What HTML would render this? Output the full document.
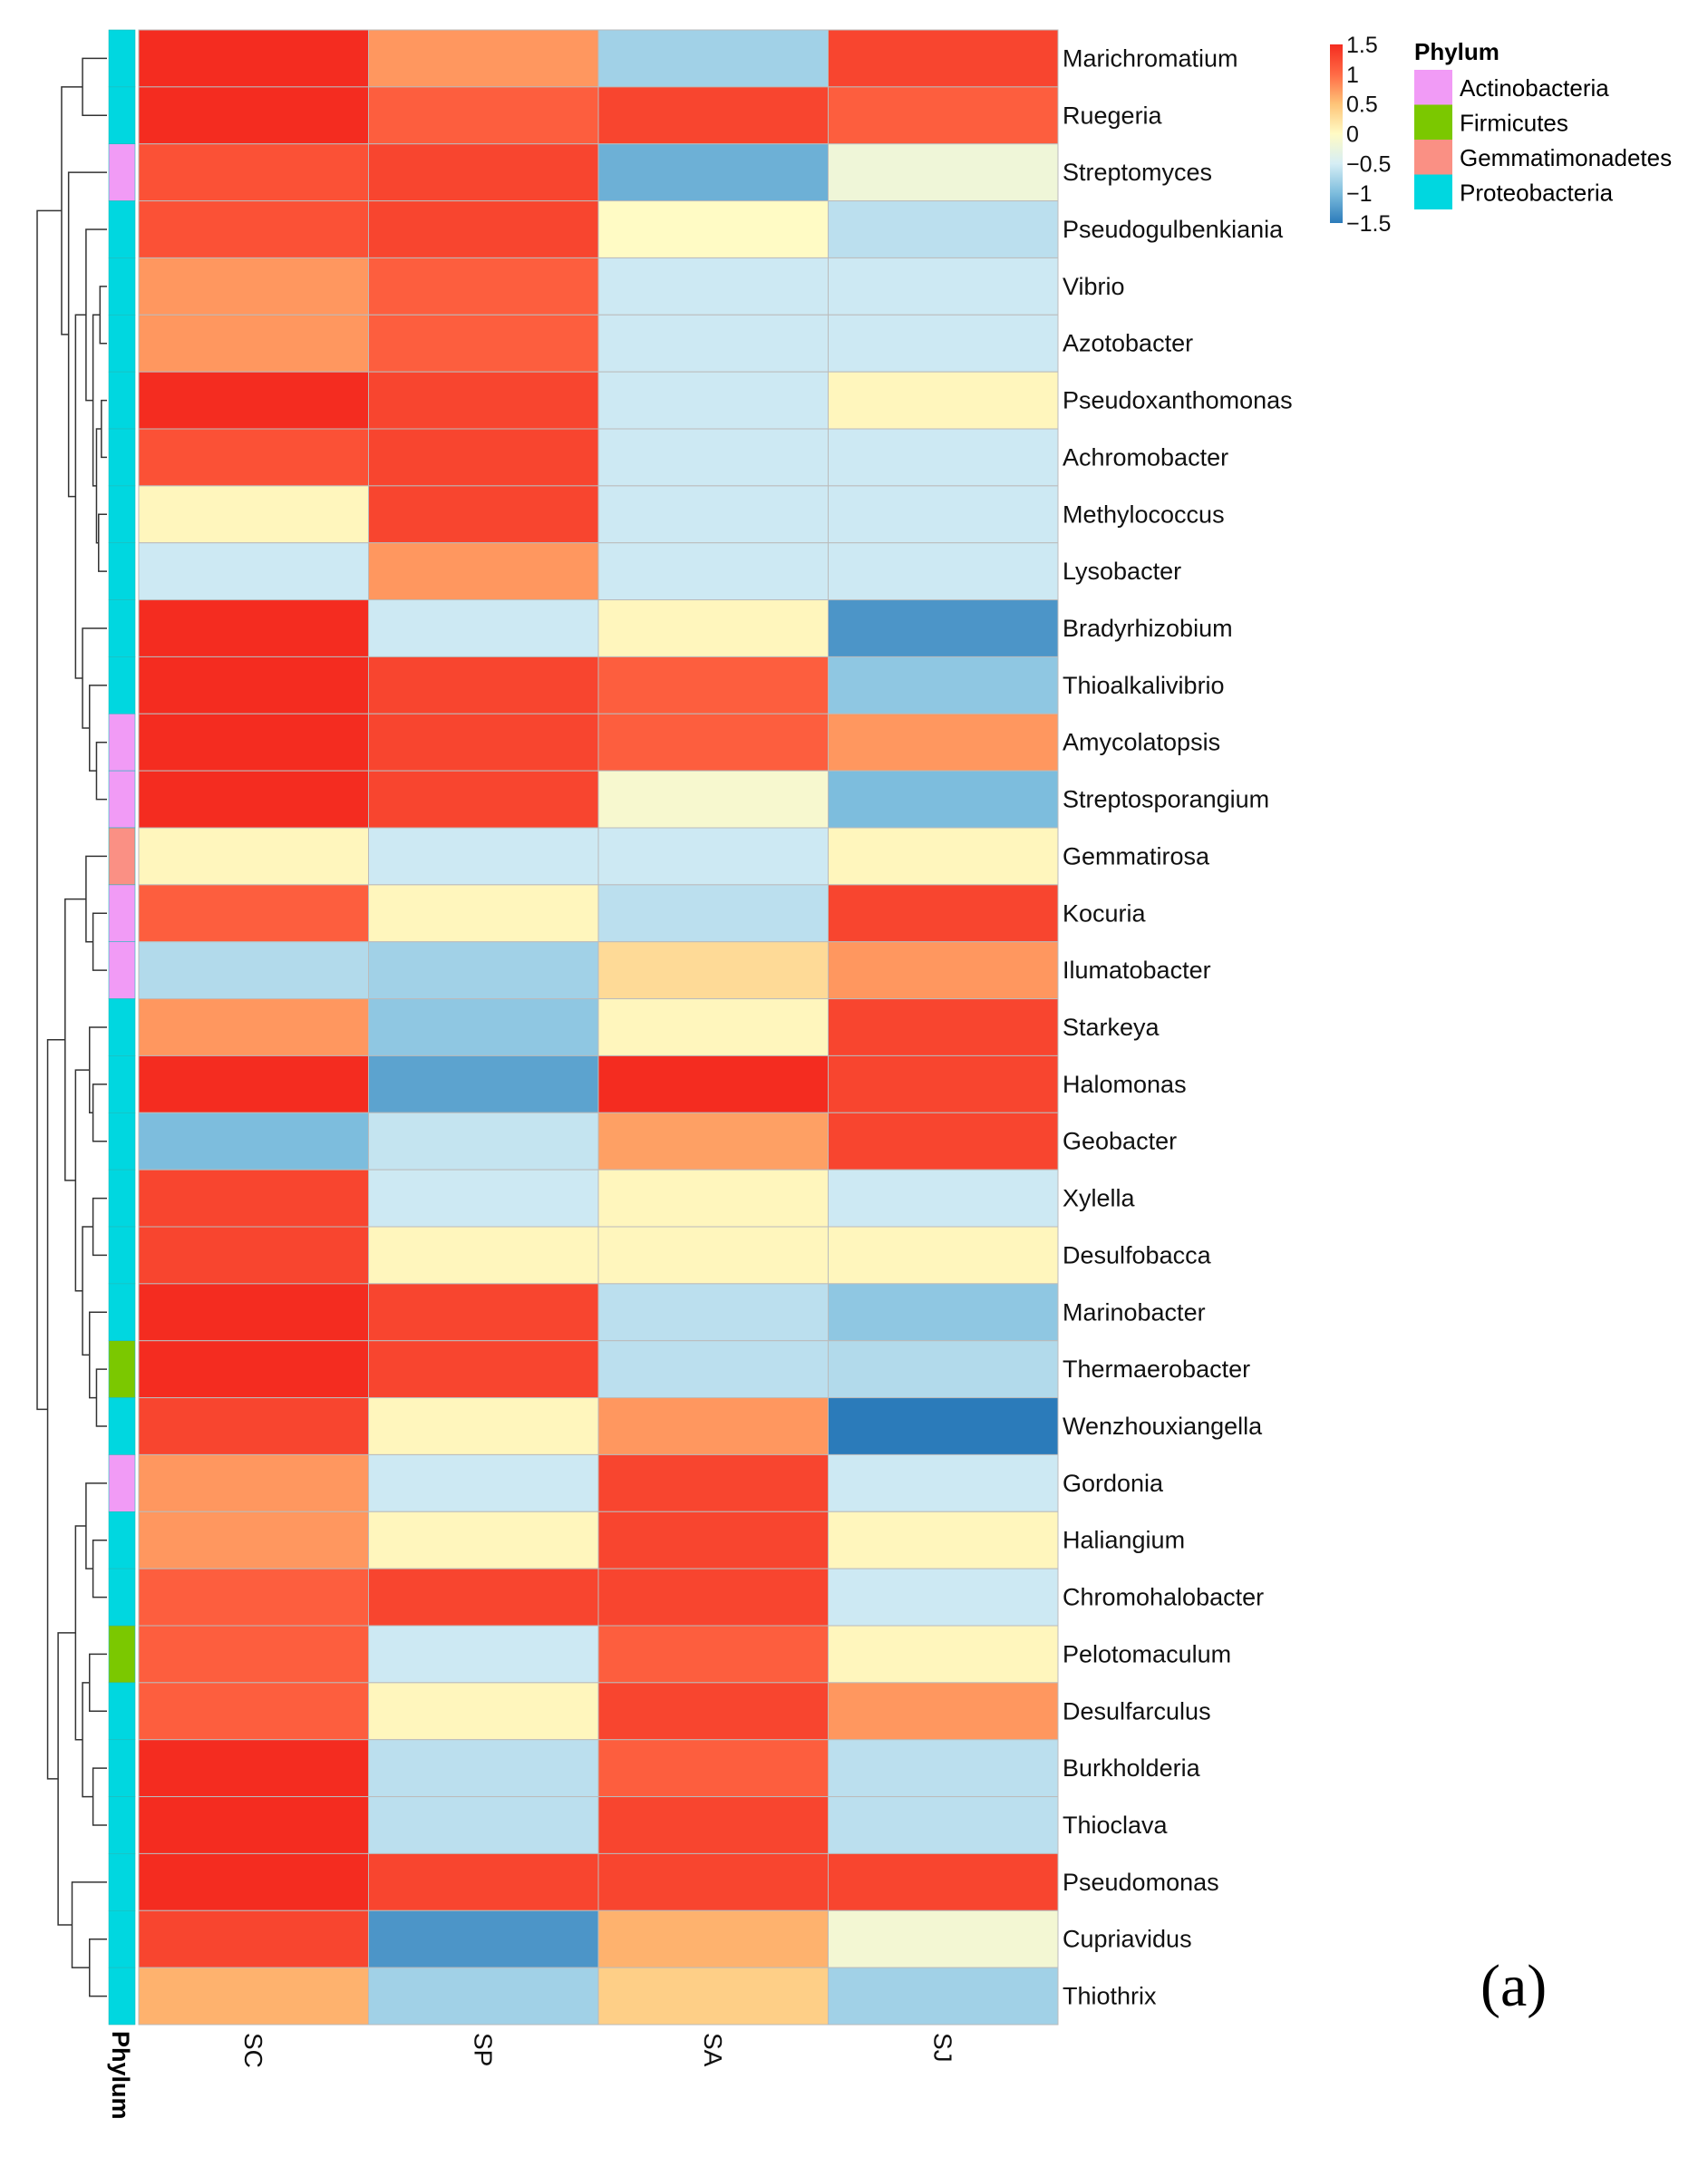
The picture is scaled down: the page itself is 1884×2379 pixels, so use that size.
<!DOCTYPE html>
<html><head><meta charset="utf-8">
<style>
html,body{margin:0;padding:0;background:#fff;}
svg{display:block;font-family:"Liberation Sans",sans-serif;}
</style></head>
<body>
<svg id="chart" width="1884" height="2379" viewBox="0 0 1884 2379">
<defs>
<linearGradient id="cbar" x1="0" y1="1" x2="0" y2="0">
<stop offset="0" stop-color="#2B7BBA"/><stop offset="0.1667" stop-color="#7DBDDD"/>
<stop offset="0.3333" stop-color="#D6EEF5"/><stop offset="0.5" stop-color="#FFFBC5"/>
<stop offset="0.6667" stop-color="#FEC478"/><stop offset="0.8333" stop-color="#FF6A45"/>
<stop offset="1" stop-color="#F42C20"/>
</linearGradient>
</defs>
<g id="dendro"></g>
<g id="phy"></g>
<g id="cells"></g>
<g id="rowlabels"></g>
<g id="collabels"></g>
<text x="0" y="0" transform="translate(124,2240) rotate(90)" font-size="27" font-weight="bold">Phylum</text>
<g>
<rect x="1467" y="49" width="14" height="197" fill="url(#cbar)"/>
<g id="cbticks" font-size="25" fill="#111"></g>
</g>
<g>
<text x="1560" y="66" font-size="26" font-weight="bold">Phylum</text>
<g id="phyleg" font-size="26"></g>
</g>
<text x="1633" y="2212" font-size="66" font-family="Liberation Serif, serif">(a)</text>
</svg>
<script>
const rows = ["Marichromatium","Ruegeria","Streptomyces","Pseudogulbenkiania","Vibrio","Azotobacter","Pseudoxanthomonas","Achromobacter","Methylococcus","Lysobacter","Bradyrhizobium","Thioalkalivibrio","Amycolatopsis","Streptosporangium","Gemmatirosa","Kocuria","Ilumatobacter","Starkeya","Halomonas","Geobacter","Xylella","Desulfobacca","Marinobacter","Thermaerobacter","Wenzhouxiangella","Gordonia","Haliangium","Chromohalobacter","Pelotomaculum","Desulfarculus","Burkholderia","Thioclava","Pseudomonas","Cupriavidus","Thiothrix"];
const columns = ["SC","SP","SA","SJ"];
const valSC = [1.5,1.5,1.2,1.2,0.75,0.75,1.5,1.2,0.05,-0.55,1.5,1.5,1.5,1.5,0.05,1.1,-0.7,0.75,1.5,-1.0,1.3,1.3,1.5,1.5,1.3,0.75,0.75,1.1,1.1,1.1,1.5,1.5,1.5,1.3,0.6];
const valSP = [0.75,1.1,1.3,1.3,1.1,1.1,1.3,1.3,1.3,0.75,-0.55,1.3,1.3,1.3,-0.55,0.05,-0.8,-0.9,-1.2,-0.6,-0.55,0.05,1.3,1.3,0.05,-0.55,0.05,1.3,-0.55,0.05,-0.65,-0.65,1.3,-1.3,-0.8];
const valSA = [-0.8,1.3,-1.1,0.0,-0.55,-0.55,-0.55,-0.55,-0.55,-0.55,0.05,1.1,1.1,-0.1,-0.55,-0.65,0.3,0.05,1.5,0.7,0.05,0.05,-0.65,-0.65,0.75,1.3,1.3,1.3,1.1,1.3,1.1,1.3,1.3,0.6,0.4];
const valSJ = [1.3,1.1,-0.2,-0.65,-0.55,-0.55,0.05,-0.55,-0.55,-0.55,-1.3,-0.9,0.75,-1.0,0.05,1.3,0.75,1.3,1.3,1.3,-0.55,0.05,-0.9,-0.7,-1.5,-0.55,0.05,-0.55,0.05,0.75,-0.65,-0.65,1.3,-0.15,-0.8];
const phylum = ["P","P","A","P","P","P","P","P","P","P","P","P","A","A","G","A","A","P","P","P","P","P","P","F","P","A","P","P","F","P","P","P","P","P","P"];
const phylumNames = ["Actinobacteria","Firmicutes","Gemmatimonadetes","Proteobacteria"];
const phylumKeys = ["A","F","G","P"];
const phylumColors = {A:"#F19BF6",F:"#7BC800",G:"#FA9084",P:"#00D7E0"};
const scaleTicks = [1.5,1,0.5,0,-0.5,-1,-1.5];
const tree = [1,[0.65,[0.35,0,1],[0.55,2,[0.45,[0.3,3,[0.2,[0.1,4,5],[0.15,[0.08,6,7],[0.12,8,9]]]],[0.35,10,[0.25,11,[0.15,12,13]]]]]],
 [0.85,[0.6,[0.3,14,[0.2,15,16]],[0.45,[0.25,17,[0.2,18,19]],[0.35,[0.2,20,21],[0.25,22,[0.15,23,24]]]]],
  [0.7,[0.45,[0.3,25,[0.2,26,27]],[0.35,[0.25,28,29],[0.2,30,31]]],[0.5,32,[0.25,33,34]]]]];

const NS="http://www.w3.org/2000/svg";
const X0=153,X1=1167,Y0=33,Y1=2233;
const cw=(X1-X0)/columns.length, rh=(Y1-Y0)/rows.length;
const xCol=i=>X0+i*cw, yRow=i=>Y0+i*rh;
const stops=[[-1.5,[43,123,186]],[-1,[125,189,221]],[-0.5,[214,238,245]],[0,[255,251,197]],[0.5,[254,196,120]],[1,[255,106,69]],[1.5,[244,44,32]]];
function color(v){v=Math.max(-1.5,Math.min(1.5,v));for(let i=0;i<stops.length-1;i++){const[a,ca]=stops[i],[b,cb]=stops[i+1];if(v<=b){const t=(v-a)/(b-a);return "rgb("+ca.map((c,k)=>Math.round(c+(cb[k]-c)*t)).join(",")+")";}}return "rgb(244,44,32)";}
function mk(tag,attrs,parent){const e=document.createElementNS(NS,tag);for(const k in attrs)e.setAttribute(k,attrs[k]);parent.appendChild(e);return e;}
const series=[valSC,valSP,valSA,valSJ];
const cells=document.getElementById("cells"),rl=document.getElementById("rowlabels"),phy=document.getElementById("phy");
rows.forEach((r,i)=>{
  series.forEach((s,j)=>{
    const c=mk("rect",{x:xCol(j),y:yRow(i),width:cw,height:rh,fill:color(s[i]),stroke:"#bbb","stroke-width":1},cells);
    
    
  });
  const p=mk("rect",{x:120,y:yRow(i),width:29,height:rh,fill:phylumColors[phylum[i]],stroke:"#2bb",'stroke-width':0.6},phy);
  
  
  const t=mk("text",{x:1172,y:yRow(i)+rh/2+9,'font-size':27,fill:"#111"},rl);
  t.textContent=r;
  
  
});
const cl=document.getElementById("collabels");
columns.forEach((c,j)=>{
  const t=mk("text",{transform:"translate("+(xCol(j)+cw/2-10)+",2242) rotate(90)",'font-size':28,fill:"#111"},cl);
  t.textContent=c;
  
  
});
const dg=document.getElementById("dendro");
const hx=h=>118-h*77;
function draw(n){
  if(typeof n==="number") return {x:118,y:yRow(n)+rh/2};
  const a=draw(n[1]),b=draw(n[2]),x=hx(n[0]);
  const pth=mk("path",{d:`M${a.x},${a.y}H${x}V${b.y}H${b.x}`,fill:"none",stroke:"#333","stroke-width":1.5},dg);
  
  
  return {x:x,y:(a.y+b.y)/2};
}
draw(tree);
const cb=document.getElementById("cbticks");
scaleTicks.forEach(v=>{
  const y=49+(1.5-v)/3*197;
  const t=mk("text",{x:1485,y:y+9},cb);
  t.textContent=(v<0?"\u2212":"")+Math.abs(v);
  
  
});
const pl=document.getElementById("phyleg");
phylumKeys.forEach((k,i)=>{
  const y=77+i*38.5;
  const r=mk("rect",{x:1560,y:y,width:42,height:38.5,fill:phylumColors[k]},pl);
  
  
  const t=mk("text",{x:1610,y:y+29},pl);
  t.textContent=phylumNames[i];
  
  
});
</script>
</body></html>
